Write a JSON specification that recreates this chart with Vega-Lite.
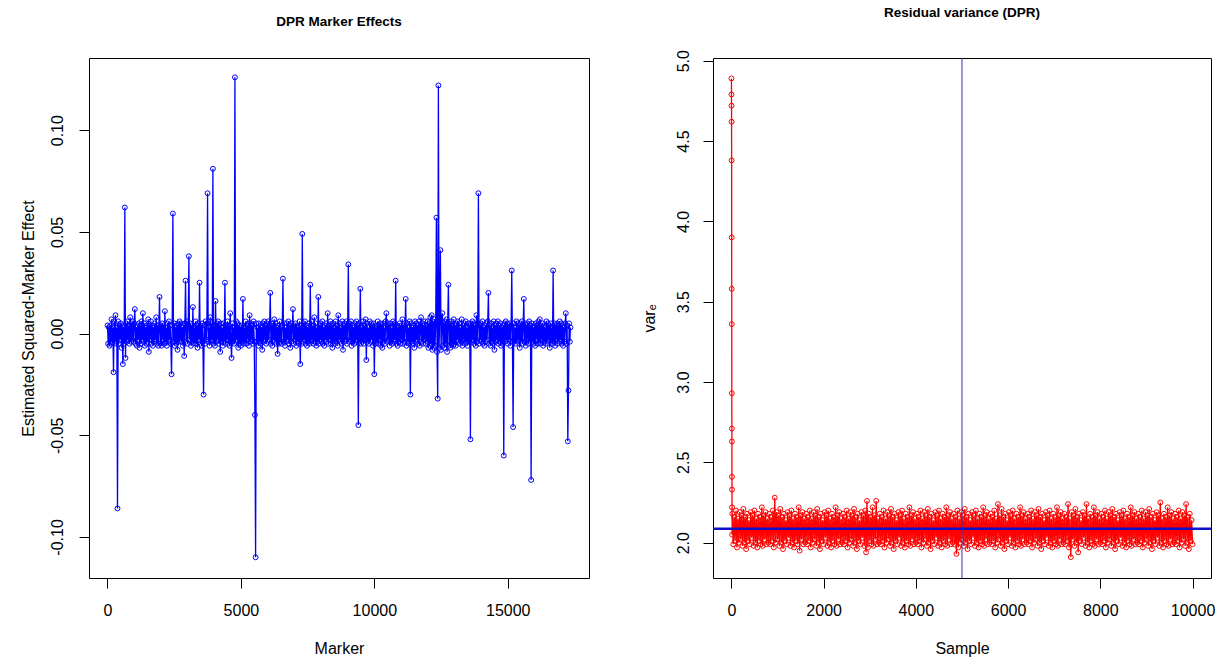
{
"$schema": "https://vega.github.io/schema/vega-lite/v6.json",
"autosize": {"type": "pad"},
"padding": {"left": 19, "top": 5, "right": 5, "bottom": 5},
"bounds": "flush",
"spacing": 124,
"config": {
  "font": "Liberation Sans",
  "view": {"stroke": "#000000", "strokeWidth": 1},
  "axis": {"grid": false, "domain": false, "tickColor": "#000000", "tickSize": 10, "labelFontSize": 16, "labelColor": "#000000", "titleFontSize": 16, "titleFontWeight": "normal", "titleColor": "#000000"},
  "title": {"fontSize": 13.5, "fontWeight": "bold", "color": "#000000", "offset": 30}
},
"hconcat": [
{
  "width": 500, "height": 520,
  "title": {"text": "DPR Marker Effects"},
  "data": {"values": [
{"m":1,"v":0.004},{"m":25,"v":-0.005},{"m":50,"v":0.003},{"m":75,"v":-0.006},{"m":100,"v":0.004},{"m":125,"v":-0.005},{"m":150,"v":0.007},{"m":175,"v":-0.004},{"m":200,"v":0.003},{"m":225,"v":-0.019},{"m":250,"v":0.006},{"m":275,"v":-0.004},{"m":300,"v":0.009},{"m":325,"v":-0.005},{"m":350,"v":0.003},{"m":375,"v":-0.086},{"m":400,"v":0.006},{"m":425,"v":-0.005},{"m":450,"v":0.004},{"m":475,"v":-0.003},{"m":500,"v":0.005},{"m":525,"v":-0.007},{"m":550,"v":0.004},{"m":575,"v":-0.015},{"m":600,"v":0.003},{"m":625,"v":-0.005},{"m":650,"v":0.062},{"m":675,"v":-0.012},{"m":700,"v":0.005},{"m":725,"v":-0.004},{"m":750,"v":0.006},{"m":775,"v":-0.003},{"m":800,"v":0.004},{"m":825,"v":-0.005},{"m":850,"v":0.008},{"m":875,"v":-0.004},{"m":900,"v":0.005},{"m":925,"v":-0.003},{"m":950,"v":0.006},{"m":975,"v":-0.004},
{"m":1000,"v":0.005},{"m":1025,"v":0.012},{"m":1050,"v":-0.005},{"m":1075,"v":0.003},{"m":1100,"v":-0.006},{"m":1125,"v":0.004},{"m":1150,"v":-0.003},{"m":1175,"v":0.005},{"m":1200,"v":-0.007},{"m":1225,"v":0.004},{"m":1250,"v":-0.005},{"m":1275,"v":0.006},{"m":1300,"v":-0.003},{"m":1325,"v":0.010},{"m":1350,"v":-0.004},{"m":1375,"v":0.005},{"m":1400,"v":-0.006},{"m":1425,"v":0.003},{"m":1450,"v":-0.005},{"m":1475,"v":0.004},{"m":1500,"v":-0.004},{"m":1525,"v":0.007},{"m":1550,"v":-0.009},{"m":1575,"v":0.004},{"m":1600,"v":-0.003},{"m":1625,"v":0.006},{"m":1650,"v":-0.005},{"m":1675,"v":0.004},{"m":1700,"v":-0.006},{"m":1725,"v":0.003},{"m":1750,"v":-0.004},{"m":1775,"v":0.005},{"m":1800,"v":-0.003},{"m":1825,"v":0.008},{"m":1850,"v":-0.005},{"m":1875,"v":0.004},{"m":1900,"v":-0.006},{"m":1925,"v":0.003},{"m":1950,"v":0.018},{"m":1975,"v":-0.005},
{"m":2000,"v":0.004},{"m":2025,"v":-0.006},{"m":2050,"v":0.005},{"m":2075,"v":-0.003},{"m":2100,"v":0.004},{"m":2125,"v":-0.005},{"m":2150,"v":0.011},{"m":2175,"v":-0.004},{"m":2200,"v":0.003},{"m":2225,"v":-0.006},{"m":2250,"v":0.005},{"m":2275,"v":-0.004},{"m":2300,"v":0.006},{"m":2325,"v":-0.003},{"m":2350,"v":0.004},{"m":2375,"v":-0.005},{"m":2400,"v":-0.020},{"m":2425,"v":0.004},{"m":2450,"v":0.059},{"m":2475,"v":-0.004},{"m":2500,"v":0.005},{"m":2525,"v":-0.006},{"m":2550,"v":0.003},{"m":2575,"v":-0.005},{"m":2600,"v":0.004},{"m":2625,"v":-0.008},{"m":2650,"v":0.005},{"m":2675,"v":-0.004},{"m":2700,"v":0.006},{"m":2725,"v":-0.003},{"m":2750,"v":0.005},{"m":2775,"v":-0.004},{"m":2800,"v":0.003},{"m":2825,"v":-0.006},{"m":2850,"v":0.004},{"m":2875,"v":-0.011},{"m":2900,"v":0.005},{"m":2925,"v":0.026},{"m":2950,"v":-0.004},{"m":2975,"v":0.006},
{"m":3000,"v":-0.005},{"m":3025,"v":0.004},{"m":3050,"v":0.038},{"m":3075,"v":-0.003},{"m":3100,"v":0.005},{"m":3125,"v":-0.006},{"m":3150,"v":0.004},{"m":3175,"v":-0.004},{"m":3200,"v":0.013},{"m":3225,"v":-0.005},{"m":3250,"v":0.003},{"m":3275,"v":-0.004},{"m":3300,"v":0.006},{"m":3325,"v":-0.005},{"m":3350,"v":0.004},{"m":3375,"v":-0.007},{"m":3400,"v":0.005},{"m":3425,"v":-0.003},{"m":3450,"v":0.025},{"m":3475,"v":-0.005},{"m":3500,"v":0.004},{"m":3525,"v":-0.006},{"m":3550,"v":0.005},{"m":3575,"v":-0.004},{"m":3600,"v":-0.030},{"m":3625,"v":0.004},{"m":3650,"v":-0.005},{"m":3675,"v":0.006},{"m":3700,"v":-0.003},{"m":3725,"v":0.005},{"m":3750,"v":0.069},{"m":3775,"v":-0.004},{"m":3800,"v":0.003},{"m":3825,"v":-0.006},{"m":3850,"v":0.008},{"m":3875,"v":-0.004},{"m":3900,"v":0.005},{"m":3925,"v":-0.003},{"m":3950,"v":0.081},{"m":3975,"v":-0.005},
{"m":4000,"v":0.004},{"m":4025,"v":-0.006},{"m":4050,"v":0.016},{"m":4075,"v":-0.004},{"m":4100,"v":0.005},{"m":4125,"v":-0.003},{"m":4150,"v":0.006},{"m":4175,"v":-0.005},{"m":4200,"v":0.004},{"m":4225,"v":-0.009},{"m":4250,"v":0.005},{"m":4275,"v":-0.004},{"m":4300,"v":0.003},{"m":4325,"v":-0.006},{"m":4350,"v":0.005},{"m":4375,"v":-0.004},{"m":4400,"v":0.025},{"m":4425,"v":-0.005},{"m":4450,"v":0.004},{"m":4475,"v":-0.003},{"m":4500,"v":0.006},{"m":4525,"v":-0.005},{"m":4550,"v":0.004},{"m":4575,"v":-0.006},{"m":4600,"v":0.010},{"m":4625,"v":-0.004},{"m":4650,"v":-0.012},{"m":4675,"v":0.005},{"m":4700,"v":-0.004},{"m":4725,"v":0.003},{"m":4750,"v":-0.005},{"m":4775,"v":0.126},{"m":4800,"v":-0.004},{"m":4825,"v":0.006},{"m":4850,"v":-0.003},{"m":4875,"v":0.005},{"m":4900,"v":-0.007},{"m":4925,"v":0.004},{"m":4950,"v":-0.005},{"m":4975,"v":0.003},
{"m":5000,"v":-0.006},{"m":5025,"v":0.004},{"m":5050,"v":-0.004},{"m":5075,"v":0.017},{"m":5100,"v":-0.005},{"m":5125,"v":0.003},{"m":5150,"v":-0.004},{"m":5175,"v":0.006},{"m":5200,"v":-0.005},{"m":5225,"v":0.004},{"m":5250,"v":-0.003},{"m":5275,"v":0.005},{"m":5300,"v":-0.006},{"m":5325,"v":0.009},{"m":5350,"v":-0.004},{"m":5375,"v":0.005},{"m":5400,"v":-0.003},{"m":5425,"v":0.004},{"m":5450,"v":-0.005},{"m":5475,"v":0.006},{"m":5500,"v":-0.004},{"m":5525,"v":-0.040},{"m":5550,"v":-0.110},{"m":5575,"v":0.005},{"m":5600,"v":-0.004},{"m":5625,"v":0.003},{"m":5650,"v":-0.006},{"m":5675,"v":0.005},{"m":5700,"v":-0.004},{"m":5725,"v":0.004},{"m":5750,"v":-0.005},{"m":5775,"v":0.003},{"m":5800,"v":-0.008},{"m":5825,"v":0.005},{"m":5850,"v":-0.004},{"m":5875,"v":0.006},{"m":5900,"v":-0.003},{"m":5925,"v":0.004},{"m":5950,"v":-0.005},{"m":5975,"v":0.005},
{"m":6000,"v":-0.004},{"m":6025,"v":0.006},{"m":6050,"v":-0.003},{"m":6075,"v":0.004},{"m":6100,"v":0.020},{"m":6125,"v":-0.005},{"m":6150,"v":0.004},{"m":6175,"v":-0.006},{"m":6200,"v":0.005},{"m":6225,"v":-0.003},{"m":6250,"v":0.007},{"m":6275,"v":-0.004},{"m":6300,"v":0.005},{"m":6325,"v":-0.005},{"m":6350,"v":0.003},{"m":6375,"v":-0.010},{"m":6400,"v":0.004},{"m":6425,"v":-0.005},{"m":6450,"v":0.006},{"m":6475,"v":-0.004},{"m":6500,"v":0.003},{"m":6525,"v":-0.005},{"m":6550,"v":0.004},{"m":6575,"v":0.027},{"m":6600,"v":-0.004},{"m":6625,"v":0.005},{"m":6650,"v":-0.006},{"m":6675,"v":0.003},{"m":6700,"v":-0.004},{"m":6725,"v":0.005},{"m":6750,"v":-0.003},{"m":6775,"v":0.006},{"m":6800,"v":-0.005},{"m":6825,"v":0.004},{"m":6850,"v":-0.007},{"m":6875,"v":0.005},{"m":6900,"v":-0.004},{"m":6925,"v":0.003},{"m":6950,"v":0.012},{"m":6975,"v":-0.005},
{"m":7000,"v":0.004},{"m":7025,"v":-0.003},{"m":7050,"v":0.005},{"m":7075,"v":-0.006},{"m":7100,"v":0.004},{"m":7125,"v":-0.004},{"m":7150,"v":0.003},{"m":7175,"v":-0.005},{"m":7200,"v":0.006},{"m":7225,"v":-0.015},{"m":7250,"v":0.004},{"m":7275,"v":-0.005},{"m":7300,"v":0.049},{"m":7325,"v":-0.004},{"m":7350,"v":0.005},{"m":7375,"v":-0.003},{"m":7400,"v":0.006},{"m":7425,"v":-0.005},{"m":7450,"v":0.004},{"m":7475,"v":-0.006},{"m":7500,"v":0.003},{"m":7525,"v":-0.004},{"m":7550,"v":0.005},{"m":7575,"v":-0.005},{"m":7600,"v":0.024},{"m":7625,"v":-0.004},{"m":7650,"v":0.006},{"m":7675,"v":-0.003},{"m":7700,"v":0.004},{"m":7725,"v":-0.005},{"m":7750,"v":0.008},{"m":7775,"v":-0.004},{"m":7800,"v":0.005},{"m":7825,"v":-0.006},{"m":7850,"v":0.003},{"m":7875,"v":-0.004},{"m":7900,"v":0.018},{"m":7925,"v":-0.005},{"m":7950,"v":0.004},{"m":7975,"v":-0.003},
{"m":8000,"v":0.005},{"m":8025,"v":-0.004},{"m":8050,"v":0.006},{"m":8075,"v":-0.005},{"m":8100,"v":0.003},{"m":8125,"v":-0.006},{"m":8150,"v":0.004},{"m":8175,"v":-0.003},{"m":8200,"v":0.005},{"m":8225,"v":-0.004},{"m":8250,"v":0.010},{"m":8275,"v":-0.005},{"m":8300,"v":0.004},{"m":8325,"v":-0.003},{"m":8350,"v":0.006},{"m":8375,"v":-0.005},{"m":8400,"v":0.004},{"m":8425,"v":-0.007},{"m":8450,"v":0.005},{"m":8475,"v":-0.004},{"m":8500,"v":0.003},{"m":8525,"v":-0.005},{"m":8550,"v":0.006},{"m":8575,"v":-0.004},{"m":8600,"v":0.004},{"m":8625,"v":-0.006},{"m":8650,"v":0.009},{"m":8675,"v":-0.003},{"m":8700,"v":0.005},{"m":8725,"v":-0.004},{"m":8750,"v":0.003},{"m":8775,"v":-0.005},{"m":8800,"v":0.006},{"m":8825,"v":-0.008},{"m":8850,"v":0.004},{"m":8875,"v":-0.004},{"m":8900,"v":0.005},{"m":8925,"v":-0.003},{"m":8950,"v":0.006},{"m":8975,"v":-0.005},
{"m":9000,"v":0.004},{"m":9025,"v":0.034},{"m":9050,"v":-0.004},{"m":9075,"v":0.005},{"m":9100,"v":-0.003},{"m":9125,"v":0.006},{"m":9150,"v":-0.006},{"m":9175,"v":0.004},{"m":9200,"v":-0.004},{"m":9225,"v":0.003},{"m":9250,"v":-0.005},{"m":9275,"v":0.005},{"m":9300,"v":-0.004},{"m":9325,"v":0.006},{"m":9350,"v":-0.003},{"m":9375,"v":0.004},{"m":9400,"v":-0.045},{"m":9425,"v":0.005},{"m":9450,"v":-0.004},{"m":9475,"v":0.022},{"m":9500,"v":-0.005},{"m":9525,"v":0.003},{"m":9550,"v":-0.004},{"m":9575,"v":0.006},{"m":9600,"v":-0.005},{"m":9625,"v":0.004},{"m":9650,"v":-0.003},{"m":9675,"v":0.007},{"m":9700,"v":-0.013},{"m":9725,"v":0.005},{"m":9750,"v":-0.004},{"m":9775,"v":0.003},{"m":9800,"v":-0.005},{"m":9825,"v":0.006},{"m":9850,"v":-0.004},{"m":9875,"v":0.005},{"m":9900,"v":-0.003},{"m":9925,"v":0.004},{"m":9950,"v":-0.006},{"m":9975,"v":0.005},
{"m":10000,"v":-0.020},{"m":10025,"v":0.004},{"m":10050,"v":-0.005},{"m":10075,"v":0.003},{"m":10100,"v":-0.004},{"m":10125,"v":0.006},{"m":10150,"v":-0.005},{"m":10175,"v":0.004},{"m":10200,"v":-0.003},{"m":10225,"v":0.005},{"m":10250,"v":-0.006},{"m":10275,"v":0.004},{"m":10300,"v":-0.007},{"m":10325,"v":0.005},{"m":10350,"v":-0.004},{"m":10375,"v":0.003},{"m":10400,"v":-0.005},{"m":10425,"v":0.006},{"m":10450,"v":0.010},{"m":10475,"v":-0.004},{"m":10500,"v":0.005},{"m":10525,"v":-0.003},{"m":10550,"v":0.004},{"m":10575,"v":-0.006},{"m":10600,"v":0.005},{"m":10625,"v":-0.004},{"m":10650,"v":0.003},{"m":10675,"v":-0.005},{"m":10700,"v":0.006},{"m":10725,"v":-0.004},{"m":10750,"v":0.005},{"m":10775,"v":-0.003},{"m":10800,"v":0.026},{"m":10825,"v":-0.005},{"m":10850,"v":0.004},{"m":10875,"v":-0.006},{"m":10900,"v":0.003},{"m":10925,"v":-0.004},{"m":10950,"v":0.005},{"m":10975,"v":-0.005},
{"m":11000,"v":0.004},{"m":11025,"v":-0.003},{"m":11050,"v":0.007},{"m":11075,"v":-0.005},{"m":11100,"v":0.004},{"m":11125,"v":-0.004},{"m":11150,"v":0.003},{"m":11175,"v":0.017},{"m":11200,"v":-0.006},{"m":11225,"v":0.005},{"m":11250,"v":-0.004},{"m":11275,"v":0.003},{"m":11300,"v":-0.005},{"m":11325,"v":0.006},{"m":11350,"v":-0.030},{"m":11375,"v":0.005},{"m":11400,"v":-0.004},{"m":11425,"v":0.003},{"m":11450,"v":-0.005},{"m":11475,"v":0.004},{"m":11500,"v":-0.007},{"m":11525,"v":0.006},{"m":11550,"v":-0.004},{"m":11575,"v":0.005},{"m":11600,"v":-0.003},{"m":11625,"v":0.004},{"m":11650,"v":-0.005},{"m":11675,"v":0.006},{"m":11700,"v":-0.006},{"m":11725,"v":0.003},{"m":11750,"v":0.008},{"m":11775,"v":-0.004},{"m":11800,"v":0.005},{"m":11825,"v":-0.005},{"m":11850,"v":0.004},{"m":11875,"v":-0.003},{"m":11900,"v":0.006},{"m":11925,"v":-0.005},{"m":11950,"v":0.004},{"m":11975,"v":-0.004},
{"m":12000,"v":0.006},{"m":12025,"v":-0.007},{"m":12050,"v":0.005},{"m":12075,"v":-0.006},{"m":12100,"v":0.008},{"m":12125,"v":-0.005},{"m":12150,"v":0.009},{"m":12175,"v":-0.008},{"m":12200,"v":0.006},{"m":12225,"v":-0.007},{"m":12250,"v":0.007},{"m":12275,"v":-0.006},{"m":12300,"v":0.005},{"m":12325,"v":0.057},{"m":12350,"v":-0.009},{"m":12375,"v":-0.032},{"m":12400,"v":0.122},{"m":12425,"v":-0.007},{"m":12450,"v":0.008},{"m":12475,"v":0.041},{"m":12500,"v":-0.008},{"m":12525,"v":0.006},{"m":12550,"v":0.010},{"m":12575,"v":-0.006},{"m":12600,"v":0.005},{"m":12625,"v":-0.007},{"m":12650,"v":0.006},{"m":12675,"v":-0.005},{"m":12700,"v":0.007},{"m":12725,"v":-0.009},{"m":12750,"v":0.005},{"m":12775,"v":0.024},{"m":12800,"v":-0.006},{"m":12825,"v":0.005},{"m":12850,"v":-0.007},{"m":12875,"v":0.006},{"m":12900,"v":-0.005},{"m":12925,"v":0.004},{"m":12950,"v":-0.006},{"m":12975,"v":0.007},
{"m":13000,"v":-0.005},{"m":13025,"v":0.004},{"m":13050,"v":-0.006},{"m":13075,"v":0.005},{"m":13100,"v":-0.003},{"m":13125,"v":0.006},{"m":13150,"v":-0.004},{"m":13175,"v":0.005},{"m":13200,"v":-0.005},{"m":13225,"v":0.003},{"m":13250,"v":-0.004},{"m":13275,"v":0.007},{"m":13300,"v":-0.006},{"m":13325,"v":0.004},{"m":13350,"v":-0.003},{"m":13375,"v":0.005},{"m":13400,"v":-0.005},{"m":13425,"v":0.006},{"m":13450,"v":-0.004},{"m":13475,"v":0.003},{"m":13500,"v":-0.006},{"m":13525,"v":0.005},{"m":13550,"v":-0.004},{"m":13575,"v":0.004},{"m":13600,"v":-0.052},{"m":13625,"v":0.005},{"m":13650,"v":-0.004},{"m":13675,"v":0.006},{"m":13700,"v":-0.003},{"m":13725,"v":0.005},{"m":13750,"v":-0.005},{"m":13775,"v":0.004},{"m":13800,"v":-0.006},{"m":13825,"v":0.009},{"m":13850,"v":-0.004},{"m":13875,"v":0.005},{"m":13900,"v":0.069},{"m":13925,"v":-0.005},{"m":13950,"v":0.004},{"m":13975,"v":-0.003},
{"m":14000,"v":0.005},{"m":14025,"v":-0.004},{"m":14050,"v":0.006},{"m":14075,"v":-0.005},{"m":14100,"v":0.003},{"m":14125,"v":-0.006},{"m":14150,"v":0.004},{"m":14175,"v":-0.004},{"m":14200,"v":0.005},{"m":14225,"v":-0.003},{"m":14250,"v":0.006},{"m":14275,"v":0.020},{"m":14300,"v":-0.005},{"m":14325,"v":0.004},{"m":14350,"v":-0.006},{"m":14375,"v":0.005},{"m":14400,"v":-0.004},{"m":14425,"v":0.003},{"m":14450,"v":-0.005},{"m":14475,"v":0.006},{"m":14500,"v":-0.008},{"m":14525,"v":0.004},{"m":14550,"v":-0.004},{"m":14575,"v":0.005},{"m":14600,"v":-0.003},{"m":14625,"v":0.006},{"m":14650,"v":-0.005},{"m":14675,"v":0.004},{"m":14700,"v":-0.004},{"m":14725,"v":0.005},{"m":14750,"v":-0.006},{"m":14775,"v":0.003},{"m":14800,"v":-0.005},{"m":14825,"v":0.004},{"m":14850,"v":-0.060},{"m":14875,"v":0.005},{"m":14900,"v":-0.004},{"m":14925,"v":0.006},{"m":14950,"v":-0.003},{"m":14975,"v":0.005},
{"m":15000,"v":-0.005},{"m":15025,"v":0.004},{"m":15050,"v":-0.003},{"m":15075,"v":0.005},{"m":15100,"v":-0.006},{"m":15125,"v":0.004},{"m":15150,"v":0.031},{"m":15175,"v":-0.004},{"m":15200,"v":-0.046},{"m":15225,"v":0.005},{"m":15250,"v":-0.004},{"m":15275,"v":0.003},{"m":15300,"v":-0.005},{"m":15325,"v":0.006},{"m":15350,"v":-0.004},{"m":15375,"v":0.005},{"m":15400,"v":-0.003},{"m":15425,"v":0.004},{"m":15450,"v":-0.007},{"m":15475,"v":0.005},{"m":15500,"v":-0.004},{"m":15525,"v":0.006},{"m":15550,"v":-0.005},{"m":15575,"v":0.003},{"m":15600,"v":0.017},{"m":15625,"v":-0.004},{"m":15650,"v":0.005},{"m":15675,"v":-0.006},{"m":15700,"v":0.004},{"m":15725,"v":-0.003},{"m":15750,"v":0.005},{"m":15775,"v":-0.005},{"m":15800,"v":0.006},{"m":15825,"v":-0.004},{"m":15850,"v":0.004},{"m":15875,"v":-0.072},{"m":15900,"v":0.005},{"m":15925,"v":-0.004},{"m":15950,"v":0.003},{"m":15975,"v":-0.005},
{"m":16000,"v":0.004},{"m":16025,"v":-0.006},{"m":16050,"v":0.005},{"m":16075,"v":-0.003},{"m":16100,"v":0.004},{"m":16125,"v":-0.005},{"m":16150,"v":0.006},{"m":16175,"v":-0.004},{"m":16200,"v":0.007},{"m":16225,"v":-0.005},{"m":16250,"v":0.004},{"m":16275,"v":-0.003},{"m":16300,"v":0.005},{"m":16325,"v":-0.006},{"m":16350,"v":0.004},{"m":16375,"v":-0.004},{"m":16400,"v":0.003},{"m":16425,"v":-0.005},{"m":16450,"v":0.006},{"m":16475,"v":-0.004},{"m":16500,"v":0.005},{"m":16525,"v":-0.003},{"m":16550,"v":0.004},{"m":16575,"v":-0.007},{"m":16600,"v":0.005},{"m":16625,"v":-0.004},{"m":16650,"v":0.003},{"m":16675,"v":-0.005},{"m":16700,"v":0.031},{"m":16725,"v":-0.004},{"m":16750,"v":0.005},{"m":16775,"v":-0.006},{"m":16800,"v":0.004},{"m":16825,"v":-0.003},{"m":16850,"v":0.005},{"m":16875,"v":-0.005},{"m":16900,"v":0.004},{"m":16925,"v":-0.004},{"m":16950,"v":0.006},{"m":16975,"v":-0.003},
{"m":17000,"v":0.005},{"m":17025,"v":-0.005},{"m":17050,"v":0.004},{"m":17075,"v":-0.006},{"m":17100,"v":0.003},{"m":17125,"v":-0.004},{"m":17150,"v":0.005},{"m":17175,"v":0.010},{"m":17200,"v":-0.005},{"m":17225,"v":0.004},{"m":17250,"v":-0.053},{"m":17275,"v":-0.028},{"m":17300,"v":0.005},{"m":17325,"v":-0.004},{"m":17350,"v":0.003}
  ]},
  "encoding": {
    "x": {"field": "m", "type": "quantitative", "scale": {"domain": [-693, 18044], "nice": false, "zero": false},
      "axis": {"title": "Marker", "values": [0, 5000, 10000, 15000], "format": "d", "labelPadding": 14, "titlePadding": 22}},
    "y": {"field": "v", "type": "quantitative", "scale": {"domain": [-0.1202, 0.1355], "nice": false, "zero": false},
      "axis": {"title": "Estimated Squared-Marker Effect", "values": [-0.1, -0.05, 0, 0.05, 0.1], "labelExpr": "datum.value < 0 ? '-' + format(-datum.value, '.2f') : format(datum.value, '.2f')", "labelAngle": -90, "labelAlign": "center", "labelBaseline": "bottom", "labelPadding": 14, "titlePadding": 13}}
  },
  "layer": [
    {"mark": {"type": "line", "color": "#0000FF", "strokeWidth": 1.3}},
    {"mark": {"type": "point", "shape": "circle", "filled": false, "color": "#0000FF", "size": 24, "strokeWidth": 1, "opacity": 1}}
  ]
},
{
  "width": 498, "height": 520,
  "title": {"text": "Residual variance (DPR)"},
  "layer": [
    {
      "data": {"values": [
{"s":1,"r":4.89},{"s":2,"r":4.79},{"s":3,"r":4.72},{"s":4,"r":4.62},{"s":5,"r":4.38},{"s":6,"r":3.90},{"s":7,"r":3.58},{"s":8,"r":3.36},{"s":9,"r":2.93},{"s":10,"r":2.71},{"s":11,"r":2.63},{"s":12,"r":2.41},{"s":13,"r":2.33},{"s":14,"r":2.22},{"s":15,"r":2.05},
{"s":20,"r":2.18},{"s":40,"r":1.99},{"s":60,"r":2.16},{"s":80,"r":2.01},{"s":100,"r":2.20},{"s":120,"r":1.97},{"s":140,"r":2.15},{"s":160,"r":2.00},{"s":180,"r":2.19},{"s":200,"r":2.02},{"s":220,"r":2.17},{"s":240,"r":1.98},{"s":260,"r":2.21},{"s":280,"r":2.00},{"s":300,"r":2.16},{"s":320,"r":1.96},{"s":340,"r":2.18},{"s":360,"r":2.01},{"s":380,"r":2.14},{"s":400,"r":1.99},
{"s":420,"r":2.19},{"s":440,"r":2.03},{"s":460,"r":2.17},{"s":480,"r":1.98},{"s":500,"r":2.20},{"s":520,"r":2.00},{"s":540,"r":2.15},{"s":560,"r":1.97},{"s":580,"r":2.18},{"s":600,"r":2.01},{"s":620,"r":2.16},{"s":640,"r":1.99},{"s":660,"r":2.22},{"s":680,"r":1.98},{"s":700,"r":2.17},{"s":720,"r":2.02},{"s":740,"r":2.19},{"s":760,"r":1.99},{"s":780,"r":2.15},{"s":800,"r":2.00},
{"s":820,"r":2.18},{"s":840,"r":1.99},{"s":860,"r":2.16},{"s":880,"r":2.01},{"s":900,"r":2.20},{"s":920,"r":1.97},{"s":940,"r":2.28},{"s":960,"r":2.00},{"s":980,"r":2.19},{"s":1000,"r":2.02},{"s":1020,"r":2.17},{"s":1040,"r":1.98},{"s":1060,"r":2.21},{"s":1080,"r":2.00},{"s":1100,"r":2.16},{"s":1120,"r":1.96},{"s":1140,"r":2.18},{"s":1160,"r":2.01},{"s":1180,"r":2.14},{"s":1200,"r":1.99},
{"s":1220,"r":2.19},{"s":1240,"r":2.03},{"s":1260,"r":2.17},{"s":1280,"r":1.98},{"s":1300,"r":2.20},{"s":1320,"r":2.00},{"s":1340,"r":2.15},{"s":1360,"r":1.97},{"s":1380,"r":2.18},{"s":1400,"r":2.01},{"s":1420,"r":2.16},{"s":1440,"r":1.99},{"s":1460,"r":2.22},{"s":1480,"r":1.95},{"s":1500,"r":2.17},{"s":1520,"r":2.02},{"s":1540,"r":2.19},{"s":1560,"r":1.99},{"s":1580,"r":2.15},{"s":1600,"r":2.00},
{"s":1620,"r":2.18},{"s":1640,"r":1.99},{"s":1660,"r":2.16},{"s":1680,"r":2.01},{"s":1700,"r":2.20},{"s":1720,"r":1.97},{"s":1740,"r":2.15},{"s":1760,"r":2.00},{"s":1780,"r":2.19},{"s":1800,"r":2.02},{"s":1820,"r":2.17},{"s":1840,"r":1.98},{"s":1860,"r":2.21},{"s":1880,"r":2.00},{"s":1900,"r":2.16},{"s":1920,"r":1.96},{"s":1940,"r":2.18},{"s":1960,"r":2.01},{"s":1980,"r":2.14},{"s":2000,"r":1.99},
{"s":2020,"r":2.19},{"s":2040,"r":2.03},{"s":2060,"r":2.17},{"s":2080,"r":1.98},{"s":2100,"r":2.20},{"s":2120,"r":2.00},{"s":2140,"r":2.15},{"s":2160,"r":1.97},{"s":2180,"r":2.18},{"s":2200,"r":2.01},{"s":2220,"r":2.16},{"s":2240,"r":1.99},{"s":2260,"r":2.22},{"s":2280,"r":1.98},{"s":2300,"r":2.17},{"s":2320,"r":2.02},{"s":2340,"r":2.19},{"s":2360,"r":1.99},{"s":2380,"r":2.15},{"s":2400,"r":2.00},
{"s":2420,"r":2.18},{"s":2440,"r":1.99},{"s":2460,"r":2.16},{"s":2480,"r":2.01},{"s":2500,"r":2.20},{"s":2520,"r":1.97},{"s":2540,"r":2.15},{"s":2560,"r":2.00},{"s":2580,"r":2.19},{"s":2600,"r":2.02},{"s":2620,"r":2.17},{"s":2640,"r":1.98},{"s":2660,"r":2.21},{"s":2680,"r":2.00},{"s":2700,"r":2.16},{"s":2720,"r":1.96},{"s":2740,"r":2.18},{"s":2760,"r":2.01},{"s":2780,"r":2.14},{"s":2800,"r":1.99},
{"s":2820,"r":2.19},{"s":2840,"r":2.03},{"s":2860,"r":2.17},{"s":2880,"r":1.98},{"s":2900,"r":2.20},{"s":2920,"r":1.94},{"s":2940,"r":2.26},{"s":2960,"r":1.97},{"s":2980,"r":2.18},{"s":3000,"r":2.01},{"s":3020,"r":2.16},{"s":3040,"r":1.99},{"s":3060,"r":2.22},{"s":3080,"r":1.98},{"s":3100,"r":2.17},{"s":3120,"r":2.02},{"s":3140,"r":2.26},{"s":3160,"r":1.99},{"s":3180,"r":2.15},{"s":3200,"r":2.00},
{"s":3220,"r":2.18},{"s":3240,"r":1.99},{"s":3260,"r":2.16},{"s":3280,"r":2.01},{"s":3300,"r":2.20},{"s":3320,"r":1.97},{"s":3340,"r":2.15},{"s":3360,"r":2.00},{"s":3380,"r":2.19},{"s":3400,"r":2.02},{"s":3420,"r":2.17},{"s":3440,"r":1.98},{"s":3460,"r":2.21},{"s":3480,"r":2.00},{"s":3500,"r":2.16},{"s":3520,"r":1.96},{"s":3540,"r":2.18},{"s":3560,"r":2.01},{"s":3580,"r":2.14},{"s":3600,"r":1.99},
{"s":3620,"r":2.19},{"s":3640,"r":2.03},{"s":3660,"r":2.17},{"s":3680,"r":1.98},{"s":3700,"r":2.20},{"s":3720,"r":2.00},{"s":3740,"r":2.15},{"s":3760,"r":1.97},{"s":3780,"r":2.18},{"s":3800,"r":2.01},{"s":3820,"r":2.16},{"s":3840,"r":1.99},{"s":3860,"r":2.22},{"s":3880,"r":1.98},{"s":3900,"r":2.17},{"s":3920,"r":2.02},{"s":3940,"r":2.19},{"s":3960,"r":1.99},{"s":3980,"r":2.15},{"s":4000,"r":2.00},
{"s":4020,"r":2.18},{"s":4040,"r":1.99},{"s":4060,"r":2.16},{"s":4080,"r":2.01},{"s":4100,"r":2.20},{"s":4120,"r":1.97},{"s":4140,"r":2.15},{"s":4160,"r":2.00},{"s":4180,"r":2.19},{"s":4200,"r":2.02},{"s":4220,"r":2.17},{"s":4240,"r":1.98},{"s":4260,"r":2.21},{"s":4280,"r":2.00},{"s":4300,"r":2.16},{"s":4320,"r":1.96},{"s":4340,"r":2.18},{"s":4360,"r":2.01},{"s":4380,"r":2.14},{"s":4400,"r":1.99},
{"s":4420,"r":2.19},{"s":4440,"r":2.03},{"s":4460,"r":2.17},{"s":4480,"r":1.98},{"s":4500,"r":2.20},{"s":4520,"r":2.00},{"s":4540,"r":2.15},{"s":4560,"r":1.97},{"s":4580,"r":2.18},{"s":4600,"r":2.01},{"s":4620,"r":2.16},{"s":4640,"r":1.99},{"s":4660,"r":2.22},{"s":4680,"r":1.98},{"s":4700,"r":2.17},{"s":4720,"r":2.02},{"s":4740,"r":2.19},{"s":4760,"r":1.99},{"s":4780,"r":2.15},{"s":4800,"r":2.00},
{"s":4820,"r":2.18},{"s":4840,"r":1.99},{"s":4860,"r":2.16},{"s":4880,"r":1.93},{"s":4900,"r":2.20},{"s":4920,"r":1.97},{"s":4940,"r":2.15},{"s":4960,"r":2.00},{"s":4980,"r":2.19},{"s":5000,"r":2.02},{"s":5020,"r":2.17},{"s":5040,"r":1.98},{"s":5060,"r":2.21},{"s":5080,"r":2.00},{"s":5100,"r":2.16},{"s":5120,"r":1.96},{"s":5140,"r":2.18},{"s":5160,"r":2.01},{"s":5180,"r":2.14},{"s":5200,"r":1.99},
{"s":5220,"r":2.19},{"s":5240,"r":2.03},{"s":5260,"r":2.17},{"s":5280,"r":1.98},{"s":5300,"r":2.20},{"s":5320,"r":2.00},{"s":5340,"r":2.15},{"s":5360,"r":1.97},{"s":5380,"r":2.18},{"s":5400,"r":2.01},{"s":5420,"r":2.16},{"s":5440,"r":1.99},{"s":5460,"r":2.22},{"s":5480,"r":1.98},{"s":5500,"r":2.17},{"s":5520,"r":2.02},{"s":5540,"r":2.19},{"s":5560,"r":1.99},{"s":5580,"r":2.15},{"s":5600,"r":2.00},
{"s":5620,"r":2.18},{"s":5640,"r":1.99},{"s":5660,"r":2.16},{"s":5680,"r":2.01},{"s":5700,"r":2.20},{"s":5720,"r":1.97},{"s":5740,"r":2.15},{"s":5760,"r":2.00},{"s":5780,"r":2.24},{"s":5800,"r":2.02},{"s":5820,"r":2.17},{"s":5840,"r":1.98},{"s":5860,"r":2.21},{"s":5880,"r":2.00},{"s":5900,"r":2.16},{"s":5920,"r":1.96},{"s":5940,"r":2.18},{"s":5960,"r":2.01},{"s":5980,"r":2.14},{"s":6000,"r":1.99},
{"s":6020,"r":2.19},{"s":6040,"r":2.03},{"s":6060,"r":2.17},{"s":6080,"r":1.98},{"s":6100,"r":2.20},{"s":6120,"r":2.00},{"s":6140,"r":2.15},{"s":6160,"r":1.97},{"s":6180,"r":2.18},{"s":6200,"r":2.01},{"s":6220,"r":2.16},{"s":6240,"r":1.99},{"s":6260,"r":2.22},{"s":6280,"r":1.98},{"s":6300,"r":2.17},{"s":6320,"r":2.02},{"s":6340,"r":2.19},{"s":6360,"r":1.99},{"s":6380,"r":2.15},{"s":6400,"r":2.00},
{"s":6420,"r":2.18},{"s":6440,"r":1.99},{"s":6460,"r":2.16},{"s":6480,"r":2.01},{"s":6500,"r":2.20},{"s":6520,"r":1.97},{"s":6540,"r":2.15},{"s":6560,"r":2.00},{"s":6580,"r":2.19},{"s":6600,"r":2.02},{"s":6620,"r":2.17},{"s":6640,"r":1.98},{"s":6660,"r":2.21},{"s":6680,"r":2.00},{"s":6700,"r":2.16},{"s":6720,"r":1.96},{"s":6740,"r":2.18},{"s":6760,"r":2.01},{"s":6780,"r":2.14},{"s":6800,"r":1.99},
{"s":6820,"r":2.19},{"s":6840,"r":2.03},{"s":6860,"r":2.17},{"s":6880,"r":1.98},{"s":6900,"r":2.20},{"s":6920,"r":2.00},{"s":6940,"r":2.15},{"s":6960,"r":1.97},{"s":6980,"r":2.18},{"s":7000,"r":2.01},{"s":7020,"r":2.16},{"s":7040,"r":1.99},{"s":7060,"r":2.22},{"s":7080,"r":1.98},{"s":7100,"r":2.17},{"s":7120,"r":2.02},{"s":7140,"r":2.19},{"s":7160,"r":1.99},{"s":7180,"r":2.15},{"s":7200,"r":2.00},
{"s":7220,"r":2.18},{"s":7240,"r":1.99},{"s":7260,"r":2.16},{"s":7280,"r":2.01},{"s":7300,"r":2.24},{"s":7320,"r":1.97},{"s":7340,"r":2.15},{"s":7360,"r":1.91},{"s":7380,"r":2.19},{"s":7400,"r":2.02},{"s":7420,"r":2.17},{"s":7440,"r":1.98},{"s":7460,"r":2.21},{"s":7480,"r":2.00},{"s":7500,"r":2.16},{"s":7520,"r":1.94},{"s":7540,"r":2.18},{"s":7560,"r":2.01},{"s":7580,"r":2.14},{"s":7600,"r":1.99},
{"s":7620,"r":2.19},{"s":7640,"r":2.03},{"s":7660,"r":2.17},{"s":7680,"r":1.98},{"s":7700,"r":2.24},{"s":7720,"r":2.00},{"s":7740,"r":2.15},{"s":7760,"r":1.97},{"s":7780,"r":2.18},{"s":7800,"r":2.01},{"s":7820,"r":2.16},{"s":7840,"r":1.99},{"s":7860,"r":2.22},{"s":7880,"r":1.98},{"s":7900,"r":2.17},{"s":7920,"r":2.02},{"s":7940,"r":2.19},{"s":7960,"r":1.99},{"s":7980,"r":2.15},{"s":8000,"r":2.00},
{"s":8020,"r":2.18},{"s":8040,"r":1.99},{"s":8060,"r":2.16},{"s":8080,"r":2.01},{"s":8100,"r":2.20},{"s":8120,"r":1.97},{"s":8140,"r":2.15},{"s":8160,"r":2.00},{"s":8180,"r":2.19},{"s":8200,"r":2.02},{"s":8220,"r":2.17},{"s":8240,"r":1.98},{"s":8260,"r":2.21},{"s":8280,"r":2.00},{"s":8300,"r":2.16},{"s":8320,"r":1.96},{"s":8340,"r":2.18},{"s":8360,"r":2.01},{"s":8380,"r":2.14},{"s":8400,"r":1.99},
{"s":8420,"r":2.19},{"s":8440,"r":2.03},{"s":8460,"r":2.17},{"s":8480,"r":1.98},{"s":8500,"r":2.20},{"s":8520,"r":2.00},{"s":8540,"r":2.15},{"s":8560,"r":1.97},{"s":8580,"r":2.18},{"s":8600,"r":2.01},{"s":8620,"r":2.16},{"s":8640,"r":1.99},{"s":8660,"r":2.22},{"s":8680,"r":1.98},{"s":8700,"r":2.17},{"s":8720,"r":2.02},{"s":8740,"r":2.19},{"s":8760,"r":1.99},{"s":8780,"r":2.15},{"s":8800,"r":2.00},
{"s":8820,"r":2.18},{"s":8840,"r":1.99},{"s":8860,"r":2.16},{"s":8880,"r":2.01},{"s":8900,"r":2.20},{"s":8920,"r":1.97},{"s":8940,"r":2.15},{"s":8960,"r":2.00},{"s":8980,"r":2.19},{"s":9000,"r":2.02},{"s":9020,"r":2.17},{"s":9040,"r":1.98},{"s":9060,"r":2.21},{"s":9080,"r":2.00},{"s":9100,"r":2.16},{"s":9120,"r":1.96},{"s":9140,"r":2.18},{"s":9160,"r":2.01},{"s":9180,"r":2.14},{"s":9200,"r":1.99},
{"s":9220,"r":2.19},{"s":9240,"r":2.03},{"s":9260,"r":2.17},{"s":9280,"r":1.98},{"s":9300,"r":2.25},{"s":9320,"r":2.00},{"s":9340,"r":2.15},{"s":9360,"r":1.97},{"s":9380,"r":2.18},{"s":9400,"r":2.01},{"s":9420,"r":2.16},{"s":9440,"r":1.99},{"s":9460,"r":2.22},{"s":9480,"r":1.98},{"s":9500,"r":2.17},{"s":9520,"r":2.02},{"s":9540,"r":2.19},{"s":9560,"r":1.99},{"s":9580,"r":2.15},{"s":9600,"r":2.00},
{"s":9620,"r":2.18},{"s":9640,"r":1.99},{"s":9660,"r":2.16},{"s":9680,"r":2.01},{"s":9700,"r":2.20},{"s":9720,"r":1.97},{"s":9740,"r":2.15},{"s":9760,"r":2.00},{"s":9780,"r":2.19},{"s":9800,"r":2.02},{"s":9820,"r":2.17},{"s":9840,"r":1.98},{"s":9860,"r":2.24},{"s":9880,"r":2.00},{"s":9900,"r":2.16},{"s":9920,"r":1.96},{"s":9940,"r":2.18},{"s":9960,"r":2.01},{"s":9980,"r":2.14},{"s":10000,"r":1.99}
      ]},
      "encoding": {
        "x": {"field": "s", "type": "quantitative", "scale": {"domain": [-399, 10400], "nice": false, "zero": false},
          "axis": {"title": "Sample", "values": [0, 2000, 4000, 6000, 8000, 10000], "format": "d", "labelPadding": 14, "titlePadding": 22}},
        "y": {"field": "r", "type": "quantitative", "scale": {"domain": [1.78, 5.017], "nice": false, "zero": false},
          "axis": {"title": "varₑ", "values": [2, 2.5, 3, 3.5, 4, 4.5, 5], "format": ".1f", "labelAngle": -90, "labelAlign": "center", "labelBaseline": "bottom", "labelPadding": 12, "titlePadding": 18}}
      },
      "layer": [
        {"mark": {"type": "line", "color": "#FF0000", "strokeWidth": 1.3}},
        {"mark": {"type": "point", "shape": "circle", "filled": false, "color": "#FF0000", "size": 24, "strokeWidth": 1, "opacity": 1}}
      ]
    },
    {
      "data": {"values": [{"s": 5000}]},
      "mark": {"type": "rule", "color": "#3333AA", "strokeWidth": 1},
      "encoding": {"x": {"field": "s", "type": "quantitative"}}
    },
    {
      "data": {"values": [{"r": 2.087}]},
      "mark": {"type": "rule", "color": "#1010C8", "strokeWidth": 2.5},
      "encoding": {"y": {"field": "r", "type": "quantitative"}}
    }
  ]
}
]
}
